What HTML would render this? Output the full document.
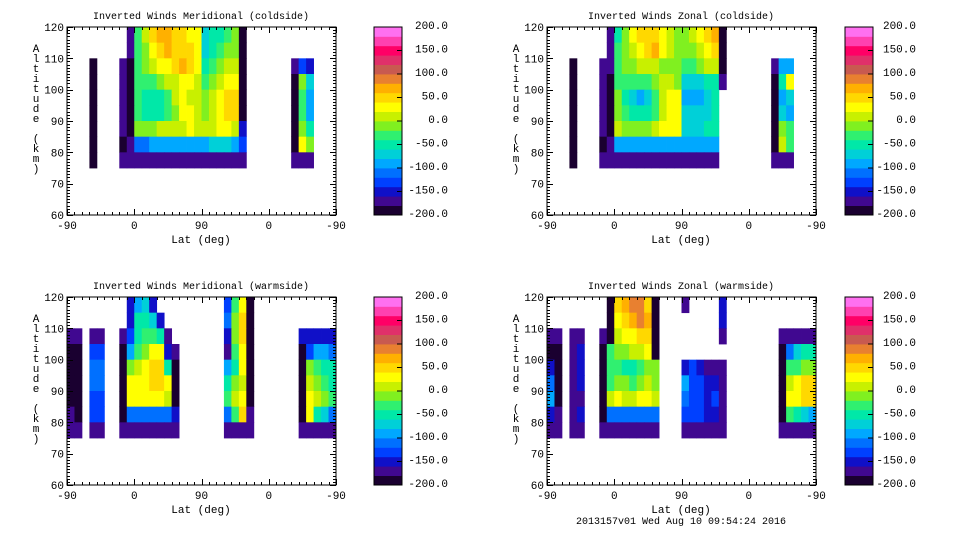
<!DOCTYPE html>
<html><head><meta charset="utf-8"><title>Inverted Winds</title>
<style>
html,body{margin:0;padding:0;background:#fff;}
svg{display:block;}
text{font-family:"Liberation Mono","DejaVu Sans Mono",monospace;font-size:10px;fill:#000;}
text.tick{font-size:11px;}
</style></head>
<body>
<svg id="chart" width="960" height="540" viewBox="0 0 960 540">
<rect x="0" y="0" width="960" height="540" fill="#fff"/>
<text x="681" y="524" text-anchor="middle">2013157v01 Wed Aug 10 09:54:24 2016</text>
</svg>
<script>
// ---- data ----
const xTickLabels = ["-90","0","90","0","-90"];
const yTickLabels = [60,70,80,90,100,110,120];
const colorbarLabels = ["200.0","150.0","100.0","50.0","0.0","-50.0","-100.0","-150.0","-200.0"];
const levelMin = -200, levelMax = 200, levelStep = 20;
const bandColors = ["#1a0030","#400890","#1010c8","#0040ff","#0070ff","#00a8ff","#00d0d8","#00e8a8","#30f070","#80f020","#c8f000","#ffff00","#ffd800","#ffb000","#e88030","#c85a50","#e0306a","#ff0066","#ff40b0","#ff70f0"];
const panelTitles = ["Inverted Winds Meridional (coldside)","Inverted Winds Zonal (coldside)","Inverted Winds Meridional (warmside)","Inverted Winds Zonal (warmside)"];
// rows top (115-120 km) to bottom (75-80 km); each segment = [startColumn, values...] (column = 10 deg of track)
const meridColdRows = [
 [[8,-170,-30,10,50,70,70,50,50,30,30,-70,-60,-50,-30,-10,-190]],
 [[8,-170,-30,-10,30,50,70,50,50,50,30,-70,-60,-40,-20,-10,-200]],
 [[3,-200],[7,-170,-190,-30,-10,10,30,30,50,70,50,30,-50,-40,-20,10,10,-200],[30,-170,-130,-150]],
 [[3,-200],[7,-180,-200,-30,-40,-30,-10,10,10,30,30,10,-30,-10,10,30,30,-200],[30,-200,-10,-70]],
 [[3,-200],[7,-180,-200,-30,-50,-50,-50,-30,10,30,10,10,-10,10,30,50,50,-200],[30,-200,-30,-90]],
 [[3,-200],[7,-180,-200,-30,-50,-50,-50,-30,-10,30,30,10,-10,10,30,50,50,-200],[30,-200,-30,-90]],
 [[3,-200],[7,-180,-200,-10,-10,-10,10,10,10,10,30,10,10,10,30,30,10,-150],[30,-200,-10,-50]],
 [[3,-200],[7,-200,-170,-110,-110,-100,-100,-100,-100,-100,-100,-90,-90,-80,-70,-80,-100,-140],[30,-200,30,-10]],
 [[3,-200],[7,-170,-170,-170,-170,-170,-170,-170,-170,-170,-170,-170,-180,-180,-180,-180,-180,-180],[30,-170,-170,-170]]
];
const zonalColdRows = [
 [[8,-170,-60,-10,30,50,50,50,30,10,-10,-10,10,30,50,70,-200]],
 [[8,-170,-40,-10,10,30,50,70,30,10,-10,-10,-10,10,30,50,-200]],
 [[3,-200],[7,-170,-180,-30,-10,-10,10,10,10,-10,-10,-10,-30,-30,-10,10,10,-200],[30,-170,-90,-100]],
 [[3,-200],[7,-180,-200,-30,-30,-30,-30,-30,-10,10,10,-10,-70,-80,-70,-60,-50,-180],[30,-200,-50,30]],
 [[3,-200],[7,-180,-200,-10,-50,-70,-90,-70,-30,10,30,30,-90,-90,-90,-80,-60],[30,-200,-90,-70]],
 [[3,-200],[7,-180,-200,-10,-30,-50,-50,-50,-30,10,30,30,-70,-80,-70,-70,-60],[30,-200,-70,-90]],
 [[3,-200],[7,-180,-200,10,-10,-10,-10,-10,10,30,30,30,-70,-70,-70,-50,-60],[30,-200,-10,-30]],
 [[3,-200],[7,-200,-170,-100,-100,-100,-100,-100,-100,-90,-90,-90,-90,-90,-90,-90,-100],[30,-200,10,-30]],
 [[3,-200],[7,-170,-170,-170,-170,-170,-170,-170,-170,-170,-170,-170,-180,-180,-180,-180,-180],[30,-170,-170,-170]]
];
const meridWarmRows = [
 [[8,-150,-90,-70,-150],[21,-130,-30,30,-200]],
 [[8,-150,-50,-50,-70,-150],[21,-110,-10,50,-200]],
 [[0,-180,-180],[3,-170,-170],[7,-170,-130,-50,-30,-30,-50,-170],[21,-150,-10,50,-200],[31,-150,-150,-150,-150,-150]],
 [[0,-200,-200],[3,-130,-130],[7,-200,-100,-30,-10,30,30,-150,-180],[21,-180,-30,30,-200],[31,-200,-130,-90,-90,-110]],
 [[0,-200,-200],[3,-120,-120],[7,-200,-20,10,30,50,50,-50,-200],[21,-100,-50,30,-200],[31,-200,-10,-30,-50,-60]],
 [[0,-200,-200],[3,-120,-120],[7,-200,30,30,30,50,50,30,-200],[21,-50,-10,10,-200],[31,-200,10,-10,-30,-50]],
 [[0,-200,-200],[3,-130,-130],[7,-200,30,30,30,30,30,10,-200],[21,-30,10,30,-200],[31,-200,30,10,-10,-30]],
 [[0,-180,-200],[3,-130,-130],[7,-200,-110,-110,-110,-110,-110,-110,-150],[21,-110,-30,50,-180],[31,-200,30,-50,-80,-120]],
 [[0,-170,-170],[3,-170,-170],[7,-170,-170,-170,-170,-170,-170,-170,-170],[21,-170,-170,-170,-170],[31,-170,-170,-170,-170,-170]]
];
const zonalWarmRows = [
 [[8,-200,50,70,90,90,50,-200],[18,-170],[23,-160]],
 [[8,-200,30,50,70,90,70,-200],[23,-150]],
 [[0,-170,-170],[3,-170,-170],[7,-170,-200,10,30,30,50,50,-200],[23,-170],[31,-170,-170,-170,-170,-170]],
 [[0,-200,-200],[3,-170,-150],[7,-200,-30,-10,-10,10,10,30,-200],[31,-200,-110,-70,-60,-50]],
 [[0,-150,-200],[3,-170,-150],[7,-200,-40,-40,-50,-60,-40,-10,-20],[18,-150,-130,-150,-170,-170,-170],[31,-200,-30,-30,-20,-10]],
 [[0,-120,-200],[3,-170,-150],[7,-200,-30,-10,-10,-30,-10,10,-10],[18,-90,-130,-140,-150,-150,-170],[31,-200,10,30,50,50]],
 [[0,-100,-200],[3,-170,-170],[7,-200,10,30,10,10,30,30,10],[18,-110,-130,-140,-150,-140,-170],[31,-200,30,30,50,50]],
 [[0,-150,-180],[3,-170,-150],[7,-200,-110,-110,-110,-110,-110,-110,-120],[18,-130,-130,-140,-150,-150,-170],[31,-200,-30,-50,-70,-90]],
 [[0,-170,-170],[3,-170,-170],[7,-170,-170,-170,-170,-170,-170,-170,-170],[18,-170,-170,-170,-170,-170,-170],[31,-170,-170,-170,-170,-170]]
];
const panelRows = [meridColdRows, zonalColdRows, meridWarmRows, zonalWarmRows];
const panelNames = ["meridional-coldside","zonal-coldside","meridional-warmside","zonal-warmside"];

// ---- drawing ----
const NS = "http://www.w3.org/2000/svg";
const svg = document.getElementById("chart");
function mk(tag, attrs, parent){
  const e = document.createElementNS(NS, tag);
  for (const k in attrs) e.setAttribute(k, attrs[k]);
  (parent||svg).appendChild(e);
  return e;
}
function colorFor(v){
  let i = Math.floor((v - levelMin) / levelStep);
  i = Math.max(0, Math.min(bandColors.length - 1, i));
  return bandColors[i];
}
const offsets = [[0,0],[480,0],[0,270],[480,270]];
panelRows.forEach((rows, p) => {
  const ox = offsets[p][0], oy = offsets[p][1];
  const x0 = 67 + ox, x1 = 336 + ox, y0 = 27 + oy, y1 = 215 + oy;
  const xs = u => x0 + u * (x1 - x0) / 360;
  const ys = a => y1 - (a - 60) * (y1 - y0) / 60;
  const g = mk("g", {});
  
  
  const t = mk("text", {x: 201 + ox, y: 19 + oy, "text-anchor": "middle"}, g);
  t.textContent = panelTitles[p];
  
  
  const cg = mk("g", {}, g);
  
  
  rows.forEach((segs, r) => {
    const aTop = 120 - 5 * r, aBot = aTop - 5;
    segs.forEach(seg => {
      const start = seg[0];
      for (let k = 1; k < seg.length; k++) {
        const c = start + k - 1;
        const xa = xs(c * 10), xb = xs((c + 1) * 10);
        const rc = mk("rect", {x: xa.toFixed(2), y: ys(aTop).toFixed(2), width: (xb - xa + 0.4).toFixed(2), height: (ys(aBot) - ys(aTop) + 0.4).toFixed(2), fill: colorFor(seg[k])}, cg);
        
        
      }
    });
  });
  const fr = mk("rect", {x: x0, y: y0, width: x1 - x0, height: y1 - y0, fill: "none", stroke: "#000", "stroke-width": 1}, g);
  
  
  let d = "";
  for (let u = 0; u <= 360; u += 10) {
    const L = (u % 90 === 0) ? 6 : 3, X = Math.round(xs(u)) + 0.5;
    d += `M${X},${y1}v${-L}M${X},${y0}v${L}`;
  }
  for (let a = 60; a <= 120; a += 1) {
    const L = (a % 10 === 0) ? 6 : 3, Y = Math.round(ys(a)) + 0.5;
    d += `M${x0},${Y}h${L}M${x1},${Y}h${-L}`;
  }
  const tk = mk("path", {d: d, stroke: "#000", "stroke-width": 1, fill: "none"}, g);
  
  
  xTickLabels.forEach((lab, i) => {
    const tl = mk("text", {x: xs(i * 90), y: y1 + 14, "text-anchor": "middle", "class": "tick"}, g);
    tl.textContent = lab;
    
    
  });
  yTickLabels.forEach(v => {
    const tl = mk("text", {x: x0 - 3, y: ys(v) + 4, "text-anchor": "end", "class": "tick"}, g);
    tl.textContent = String(v);
    
    
  });
  const xt = mk("text", {x: 201 + ox, y: y1 + 28, "text-anchor": "middle", "class": "tick"}, g);
  xt.textContent = "Lat (deg)";
  
  
  const yt = mk("text", {x: 36 + ox, y: 52 + oy, "text-anchor": "middle", "class": "tick"}, g);
  
  
  "Altitude (km)".split("").forEach((ch, i) => {
    const ts = mk("tspan", {x: 36 + ox, y: 52 + oy + i * 10}, yt);
    ts.textContent = ch === " " ? "\u00a0" : ch;
  });
  const bx = (p % 2 === 0) ? 374 : 845, by0 = 27 + oy, by1 = 215 + oy, bw = 28;
  const cb = mk("g", {}, g);
  
  
  const bh = (by1 - by0) / bandColors.length;
  bandColors.forEach((col, i) => {
    const br = mk("rect", {x: bx, y: (by1 - (i + 1) * bh).toFixed(2), width: bw, height: (bh + 0.4).toFixed(2), fill: col}, cb);
    
    
  });
  const cbf = mk("rect", {x: bx, y: by0, width: bw, height: by1 - by0, fill: "none", stroke: "#000", "stroke-width": 1}, cb);
  
  
  const lx = (p % 2 === 0) ? 448 : 916;
  colorbarLabels.forEach((lab, i) => {
    const Y = by0 + i * (by1 - by0) / (colorbarLabels.length - 1);
    if (i > 0 && i < colorbarLabels.length - 1) {
      const tm = mk("line", {x1: bx + bw - 5, x2: bx + bw, y1: Y, y2: Y, stroke: "#000"}, cb);
      
      
    }
    const cl = mk("text", {x: lx, y: Y + 2, "text-anchor": "end", "class": "tick"}, cb);
    cl.textContent = lab;
    
    
  });
});
</script>
</body></html>
